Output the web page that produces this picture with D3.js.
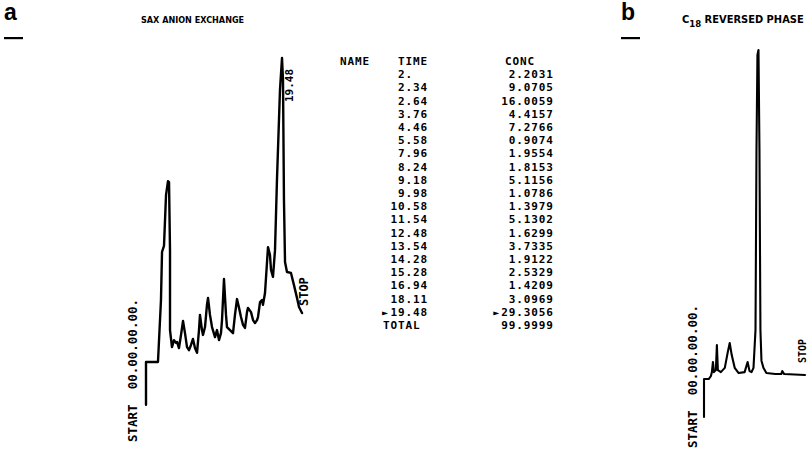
<!DOCTYPE html>
<html><head><meta charset="utf-8">
<script src="https://cdn.jsdelivr.net/npm/d3@7"></script>
<style>
body{margin:0;background:#fff}
svg{display:block}
.mono{font-family:"DejaVu Sans Mono","Liberation Mono",monospace;font-weight:bold;fill:#000}
.cond{font-family:"DejaVu Sans Condensed","DejaVu Sans",sans-serif;font-stretch:condensed;font-weight:bold;fill:#000}
.big{font-family:"Liberation Sans",Arial,sans-serif;font-weight:bold;fill:#000}
</style>
</head><body>
<svg id="chart" width="808" height="459"></svg>
<script>
// ---- Panel a: SAX anion exchange trace (time in min, response arb. units) ----
const traceATime = [0,0,1.71,2.14,2.29,2.57,2.86,3.14,3.29,3.43,3.43,3.71,4.0,4.29,4.43,4.71,5.0,5.29,5.57,5.86,6.14,6.43,6.71,7.0,7.29,7.57,7.71,8.0,8.14,8.43,8.71,8.86,9.14,9.43,9.86,10.14,10.43,10.71,10.86,11.14,11.43,11.57,12.0,12.43,12.71,13.0,13.29,13.57,13.86,14.14,14.43,14.57,15.0,15.29,15.57,15.86,16.0,16.29,16.57,16.71,17.0,17.29,17.43,17.71,17.86,18.14,18.43,18.71,19.14,19.43,19.57,19.71,19.86,20.14,20.71,21.14,21.57,21.86,22.29];
const traceAResp = [-14.1,0,0,20.4,36.2,38.2,54.9,59.5,59.2,36.8,10.5,4.9,7.2,6.3,6.6,4.6,8.9,13.5,9.5,4.9,3.9,5.6,7.6,4.6,3.0,10.5,15.5,10.5,8.9,11.5,18.8,21.1,15.5,11.5,8.2,10.5,7.2,9.5,13.8,27.3,15.5,11.5,10.5,9.5,15.5,20.7,17.8,14.8,12.2,11.2,16.4,17.8,16.4,13.8,12.8,13.8,14.8,19.7,20.4,18.8,22.7,32.9,37.8,35.2,30.3,28.0,36.8,59.9,89.5,100,92.8,53.3,32.9,29.6,29.3,25.3,21.1,18.1,16.1];

// ---- Panel b: C18 reversed phase trace ----
const traceBTime = [0,0,0.71,1.0,1.14,1.29,1.43,1.71,1.86,2.0,2.43,3.0,3.43,3.71,4.0,4.43,5.0,5.86,6.29,6.57,6.86,7.14,7.43,7.57,7.71,7.86,8.0,8.14,8.29,8.57,9.0,10.29,11.14,11.29,11.57,14.57];
const traceBResp = [-12.2,-0.6,-0.6,0.3,1.5,4.6,1.5,2.1,9.8,2.1,1.5,2.8,7.6,10.4,6.7,2.8,1.2,1.5,4.6,1.8,1.5,2.8,14.4,69.4,98.5,100,69.4,14.4,5.0,2.8,1.2,0.9,0.9,1.8,0.9,0.6];

// ---- Integrator report ----
const tableTimes = ["2.","2.34","2.64","3.76","4.46","5.58","7.96","8.24","9.18","9.98","10.58","11.54","12.48","13.54","14.28","15.28","16.94","18.11","19.48"];
const tableConc  = ["2.2031","9.0705","16.0059","4.4157","7.2766","0.9074","1.9554","1.8153","5.1156","1.0786","1.3979","5.1302","1.6299","3.7335","1.9122","2.5329","1.4209","3.0969","29.3056"];
const markedTime = "19.48";
const totalLabel = "TOTAL";
const totalConc = "99.9999";
const headers = ["NAME","TIME","CONC"];
const startLabel = "START  00.00.00.00.";

const svg = d3.select("#chart");

// panel letters
svg.append("text").attr("class","big").attr("x",4).attr("y",20).attr("font-size",23).text("a");
svg.append("rect").attr("x",4).attr("y",37).attr("width",19).attr("height",2.2).attr("fill","#000");
svg.append("text").attr("class","big").attr("x",621).attr("y",20).attr("font-size",23).text("b");
svg.append("rect").attr("x",621).attr("y",37).attr("width",19).attr("height",2.2).attr("fill","#000");

// titles
svg.append("text").attr("class","cond").attr("x",141).attr("y",23).attr("font-size",9).text("SAX ANION EXCHANGE");
const tb = svg.append("text").attr("class","cond").attr("x",682).attr("y",23).attr("font-size",11);
tb.append("tspan").text("C");
tb.append("tspan").attr("dy",3.5).attr("font-size",9.5).text("18");
tb.append("tspan").attr("dy",-3.5).text(" REVERSED PHASE");

// scales panel a
const xA = d3.scaleLinear().domain([0,22.3]).range([146,302.1]);
const yA = d3.scaleLinear().domain([0,100]).range([362,58]);
const lineA = d3.line().x((d,i)=>xA(traceATime[i])).y((d,i)=>yA(traceAResp[i]));
svg.append("path").attr("d",lineA(traceATime)).attr("fill","none").attr("stroke","#000")
  .attr("stroke-width",2.4).attr("stroke-linejoin","round").attr("stroke-linecap","round");

// scales panel b
const xB = d3.scaleLinear().domain([0,14.57]).range([704,805]);
const yB = d3.scaleLinear().domain([0,100]).range([377,50]);
const lineB = d3.line().x((d,i)=>xB(traceBTime[i])).y((d,i)=>yB(traceBResp[i]));
svg.append("path").attr("d",lineB(traceBTime)).attr("fill","none").attr("stroke","#000")
  .attr("stroke-width",2.1).attr("stroke-linejoin","round").attr("stroke-linecap","round");

// rotated labels helper
function vlabel(x,y,txt,size,weight){
  svg.append("text").attr("class","mono").attr("font-size",size)
    .attr("font-weight",weight||"bold").style("white-space","pre")
    .attr("transform",`translate(${x},${y}) rotate(-90)`).text(txt);
}
// panel a labels
vlabel(xA(0)-9, 442, startLabel, 12.5);
vlabel(xA(19.43)+11, yA(100)+44, "19.48", 11);
vlabel(xA(22.29)+6, yA(16.1)-7, "STOP", 12);
// panel b labels
vlabel(xB(0)-7, 448, startLabel, 12.5);
vlabel(xB(14.57)+1, yB(0.6)-12, "STOP", 10, "normal");

// table
const rows = tableTimes.map((t,i)=>({t, c: tableConc[i]}));
const yRow = d3.scalePoint().domain(d3.range(rows.length+2)).range([65,329]);
const fs = 11, ls = 0.9;
const hdr = svg.append("g").attr("class","mono").attr("font-size",fs).attr("letter-spacing",ls);
hdr.append("text").attr("x",340).attr("y",yRow(0)).text(headers[0]);
hdr.append("text").attr("x",398).attr("y",yRow(0)).text(headers[1]);
hdr.append("text").attr("x",505).attr("y",yRow(0)).text(headers[2]);

const pad = s => { const ip = s.split(".")[0]; return (ip.length<2?" ":"")+s; };
const g = svg.append("g").attr("class","mono").attr("font-size",fs).attr("letter-spacing",ls);
const xEnd = 553 + ls;
rows.forEach((r,i)=>{
  const y = yRow(i+1);
  g.append("text").attr("x",390.5).attr("y",y).style("white-space","pre").text(pad(r.t));
  const ct = g.append("text").attr("x",xEnd).attr("y",y).attr("text-anchor","end").text(r.c);
  if(r.t===markedTime){
    g.append("text").attr("x",388).attr("y",y).attr("text-anchor","end").attr("letter-spacing",0).attr("font-size",10).text("\u25BA");
    const w = ct.node().getComputedTextLength();
    g.append("text").attr("x",xEnd-w-2).attr("y",y).attr("text-anchor","end").attr("letter-spacing",0).attr("font-size",10).text("\u25BA");
  }
});
g.append("text").attr("x",383).attr("y",yRow(rows.length+1)).text(totalLabel);
g.append("text").attr("x",xEnd).attr("y",yRow(rows.length+1)).attr("text-anchor","end").text(totalConc);
</script>
</body></html>
